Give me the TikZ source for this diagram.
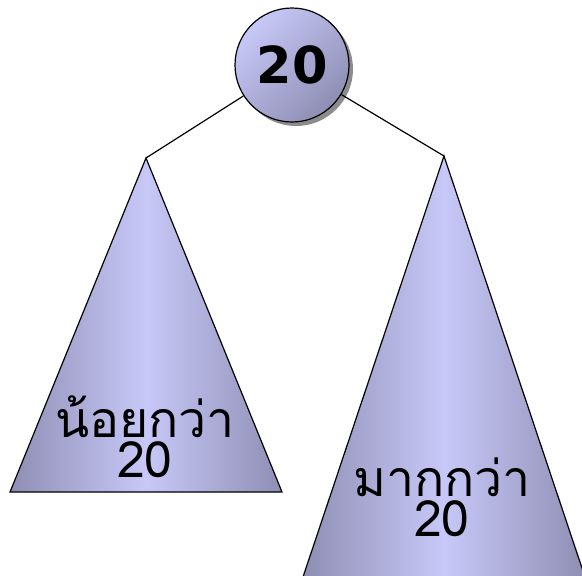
\documentclass[tikz,border=0pt]{standalone}
\usepackage{fontspec}
\usetikzlibrary{positioning,shadows}
\newfontfamily\thaifont[Script=Thai]{Loma}
\newfontfamily\rootfont{DejaVu Sans}
\definecolor{lavlight}{HTML}{C8C8F8}
\definecolor{lavdark}{HTML}{8E8EB4}
\tikzset{
  rootnode/.style={circle,draw=black,line width=1.2pt,minimum size=114pt,inner sep=0pt,
    top color=lavlight,bottom color=lavdark,shading angle=45,
    drop shadow={shadow xshift=4pt,shadow yshift=-4pt,fill=black!45,opacity=1},
    font=\rootfont\bfseries\fontsize{51}{52}\selectfont},
  subtree/.style={draw=black,line width=1.2pt,left color=lavdark,right color=lavdark,middle color=lavlight},
  branch/.style={line width=1.2pt},
  treelbl/.style={align=center,font=\thaifont\fontsize{50}{40}\selectfont,inner sep=0pt},
}
\begin{document}
\begin{tikzpicture}[x=1pt,y=-1pt]
  \useasboundingbox (0,0) rectangle (582,576);
  \begin{scope}
    \clip (0,0) rectangle (582,576);
    % subtrees
    \coordinate (lapex) at (146,158);
    \coordinate (rapex) at (444,156);
    \path[subtree] (lapex) -- (10,492) -- (282,492) -- cycle;
    \path[subtree] (rapex) -- (302,580) -- (586,580) -- cycle;
    \node[treelbl] (lless) at (145,437) {น้อยกว่า\\20};
    \node[treelbl] (rmore) at (442,497) {มากกว่า\\20};
    % root
    \node[rootnode] (root) at (292,65) {20};
    \draw[branch] (root) -- (lapex);
    \draw[branch] (root) -- (rapex);
  \end{scope}
\end{tikzpicture}
\end{document}
